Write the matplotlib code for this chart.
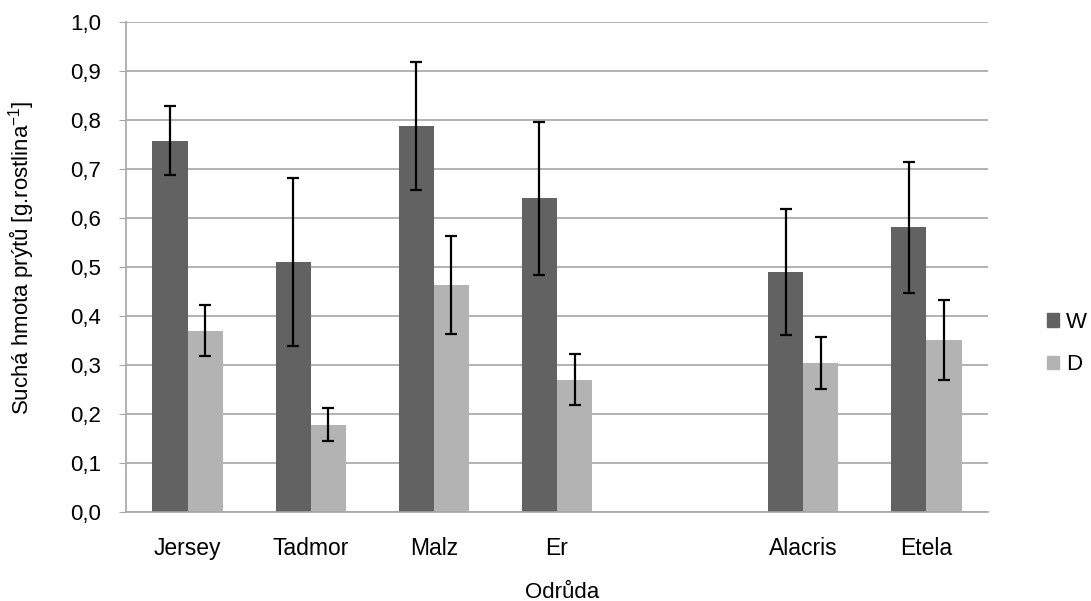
import numpy as np
import matplotlib
matplotlib.use("Agg")
import matplotlib.pyplot as plt
from matplotlib.patches import Patch

plt.rcParams['font.family'] = ['Liberation Sans', 'DejaVu Sans']
plt.rcParams['mathtext.default'] = 'regular'

categories = ['Jersey', 'Tadmor', 'Malz', 'Er', '', 'Alacris', 'Etela']
w_values = [0.758, 0.510, 0.788, 0.640, np.nan, 0.490, 0.581]
w_errors = [0.071, 0.172, 0.130, 0.156, np.nan, 0.128, 0.134]
d_values = [0.370, 0.178, 0.463, 0.270, np.nan, 0.305, 0.351]
d_errors = [0.052, 0.034, 0.100, 0.052, np.nan, 0.053, 0.081]
y_ticks = [0.0, 0.1, 0.2, 0.3, 0.4, 0.5, 0.6, 0.7, 0.8, 0.9, 1.0]

W_COLOR = '#626262'
D_COLOR = '#b3b3b3'
GRID = '#a6a6a6'

fig = plt.figure(figsize=(10.91, 6.01), dpi=100)
ax = fig.add_axes([126/1091, 89/601, (988-126)/1091, (512-22)/601])

x = np.arange(len(categories))
bw = 0.285
ax.bar(x - bw/2, w_values, bw, color=W_COLOR, zorder=2)
ax.bar(x + bw/2, d_values, bw, color=D_COLOR, zorder=2)
ax.errorbar(x - bw/2, w_values, yerr=w_errors, fmt='none', ecolor='black',
            elinewidth=1.6, capsize=4, capthick=1.6, zorder=3)
ax.errorbar(x + bw/2, d_values, yerr=d_errors, fmt='none', ecolor='black',
            elinewidth=1.6, capsize=4, capthick=1.6, zorder=3)

ax.set_xlim(-0.5, len(categories) - 0.5)
ax.set_ylim(0, 1.0)
ax.set_yticks(y_ticks)
ax.set_yticklabels([f"{v:.1f}".replace('.', ',') for v in y_ticks], fontsize=16)
ax.set_xticks(x)
ax.set_xticklabels(categories, fontsize=16.5)
ax.tick_params(axis='x', length=0, pad=18)
ax.tick_params(axis='y', length=5, color=GRID, pad=13)

ax.yaxis.grid(True, color=GRID, linewidth=1.2, zorder=0)
ax.set_axisbelow(True)
for s in ['top', 'right']:
    ax.spines[s].set_visible(False)
ax.spines['left'].set_color(GRID)
ax.spines['bottom'].set_color(GRID)
ax.spines['left'].set_linewidth(1.2)
ax.spines['bottom'].set_linewidth(1.2)

fig.text(562/1091, 1 - 592/601, 'Odrůda', fontsize=16, ha='center', va='center')
fig.text(22/1091, 1 - 258/601, 'Suchá hmota prýtů [g.rostlina$^{-1}$]', fontsize=16,
         rotation=90, ha='center', va='center')

handles = [Patch(color=W_COLOR, label='W'), Patch(color=D_COLOR, label='D')]
fig.legend(handles=handles, loc='center left', bbox_to_anchor=(1047/1091, 1 - 343.5/601),
           frameon=False, fontsize=16, handlelength=0.55, handleheight=0.55,
           handletextpad=0.32, labelspacing=0.95, borderpad=0, borderaxespad=0)

fig.savefig('out.png', dpi=100)
